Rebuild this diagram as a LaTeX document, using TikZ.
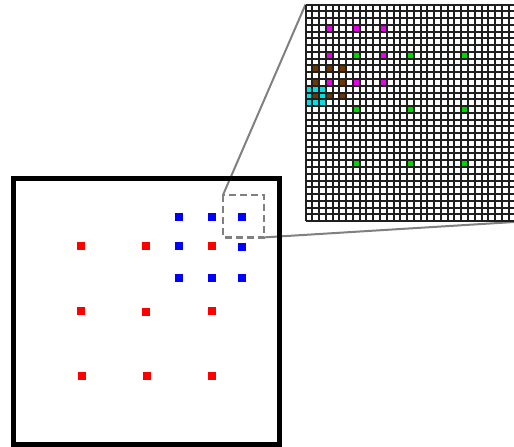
\documentclass[tikz,border=0pt]{standalone}
\usetikzlibrary{positioning}

\definecolor{cellcyan}{RGB}{0,225,225}
\definecolor{cellbrown}{RGB}{110,55,0}
\definecolor{cellmagenta}{RGB}{235,0,235}
\definecolor{cellgreen}{RGB}{0,215,0}
\definecolor{linkgray}{RGB}{128,128,128}

\begin{document}
\begin{tikzpicture}[x=1pt, y=-1pt,
    dot/.style={inner sep=0, minimum size=8pt},
    link/.style={draw=linkgray, line width=2pt},
    gridline/.style={black!88, line width=2pt}]
    \clip (0,0) rectangle (514,447);

    \node[inner sep=0, minimum size=216.6pt, anchor=north west] (zoomgrid) at (305.5,4.5) {};
    \node[inner sep=0, minimum width=40.5pt, minimum height=42pt, anchor=north west] (zoombox) at (223,195) {};

    \draw[link] (zoombox.north west) -- (zoomgrid.north west);
    \draw[link] (zoombox.south east) -- (zoomgrid.south east);

    % zoomed grid
    \begin{scope}[shift={(zoomgrid.north west)}, x=6.77pt, y=-6.77pt]
      \fill[white] (0,0) rectangle (32,32);
      \foreach \c in {0,1,2}
        \foreach \r in {12,13,14}
          \fill[cellcyan] (\c,\r) rectangle ++(1,1);
      \foreach \c in {1,3,5}
        \foreach \r in {9,11,13}
          \fill[cellbrown] (\c,\r) rectangle ++(1,1);
      \foreach \c in {3,7,11}
        \foreach \r in {3,7,11}
          \fill[cellmagenta] (\c,\r) rectangle ++(1,1);
      \foreach \c in {7,15,23}
        \foreach \r in {7,15,23}
          \fill[cellgreen] (\c,\r) rectangle ++(1,1);
      \foreach \i in {0,...,32} {
        \draw[gridline] (\i,0) -- (\i,32);
        \draw[gridline] (0,\i) -- (32,\i);
      }
    \end{scope}

    \draw[line width=4.5pt] (13.5,178.5) rectangle (279.5,444.5);

    \foreach \x/\y [count=\n] in {80.7/245.7, 146/245.7, 212.3/245.7,
        80.7/310.7, 146/312.3, 212.3/310.7, 82/376, 147.3/376, 212.3/376}
      \node[dot, fill=red] (r\n) at (\x,\y) {};
    \foreach \x/\y [count=\n] in {178.7/217, 212.3/217, 242.3/217,
        178.7/245.7, 242.3/247, 178.7/278, 212.3/278, 242.3/278}
      \node[dot, fill=blue] (b\n) at (\x,\y) {};

    \draw[linkgray, line width=2.5pt, dash pattern=on 7pt off 4pt]
      (zoombox.north west) rectangle (zoombox.south east);
  \end{tikzpicture}
\end{document}
